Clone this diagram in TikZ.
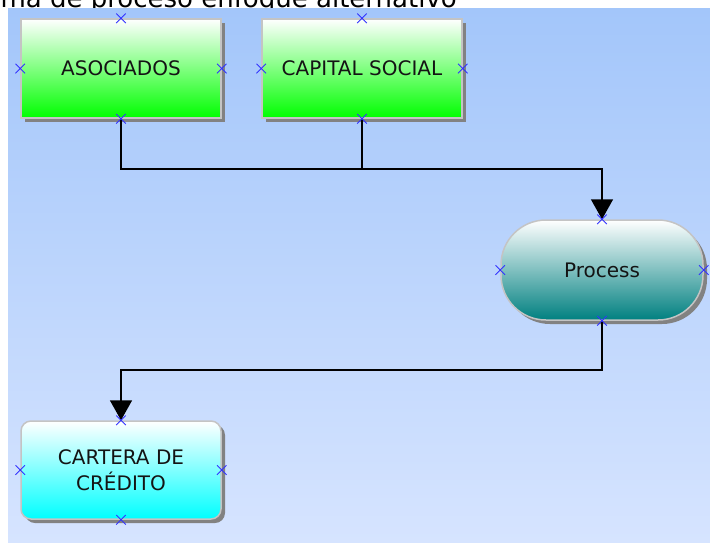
\documentclass[tikz,border=0pt]{standalone}
\usepackage{fontspec}
\setmainfont{DejaVu Sans}
\usetikzlibrary{arrows.meta,shadows,shapes.misc}
\definecolor{bgtop}{RGB}{163,198,250}
\definecolor{bgbot}{RGB}{214,228,255}
\definecolor{boxgreen}{RGB}{0,255,0}
\definecolor{boxteal}{RGB}{0,128,128}
\definecolor{boxcyan}{RGB}{0,255,255}
\definecolor{edgegray}{RGB}{196,196,196}
\definecolor{shadowgray}{RGB}{130,130,130}
\definecolor{markblue}{RGB}{50,50,255}
\definecolor{textdark}{RGB}{20,20,20}
\tikzset{
  basebox/.style={draw=edgegray, line width=1.5pt, minimum width=200pt, minimum height=99pt,
    inner sep=0pt, text=textdark, font=\fontsize{20}{26}\selectfont, align=center,
    drop shadow={shadow xshift=4pt, shadow yshift=-4pt, fill=shadowgray, opacity=1}},
  greenbox/.style={basebox, top color=white, bottom color=boxgreen},
  processbox/.style={basebox, minimum width=202pt, minimum height=100pt, rounded corners=45pt,
    top color=white, bottom color=boxteal},
  cyanbox/.style={basebox, minimum height=98pt, rounded corners=10pt, top color=white, bottom color=boxcyan},
  conn/.style={line width=1.6pt, draw=black},
  arr/.style={conn, -{Triangle[width=22pt,length=20pt]}},
  mk/.style={cross out, draw=markblue, minimum size=8.5pt, inner sep=0pt, line width=1pt},
}
\begin{document}
\begin{tikzpicture}[x=1pt,y=1pt]
\useasboundingbox (0,0) rectangle (710,-542);
\clip (0,0) rectangle (710,-542);
\fill[white] (0,0) rectangle (710,-542);
\node[anchor=base east, inner sep=0pt, font=\fontsize{26}{30}\selectfont] (title) at (457,-7) {Diagrama de proceso enfoque alternativo};
\shade[top color=bgtop, bottom color=bgbot] (8,-8) rectangle (710,-542);

\node[greenbox] (a) at (121,-68.5) {ASOCIADOS};
\node[greenbox] (c) at (362,-68.5) {CAPITAL SOCIAL};
\node[processbox] (p) at (602,-270) {Process};
\node[cyanbox] (d) at (121,-470) {CARTERA DE\\CRÉDITO};

\coordinate (j) at (362,-169);
\coordinate (k) at (602,-370);
\draw[arr] (a.south) |- (j) -| (p.north);
\draw[conn] (c.south) -- (j);
\draw[arr] (p.south) -- (k) -| (d.north);

\foreach \n in {a,c,p,d}
  \foreach \s in {north,south,east,west}
    \node[mk] (\n-\s-mk) at (\n.\s) {};
\end{tikzpicture}
\end{document}
